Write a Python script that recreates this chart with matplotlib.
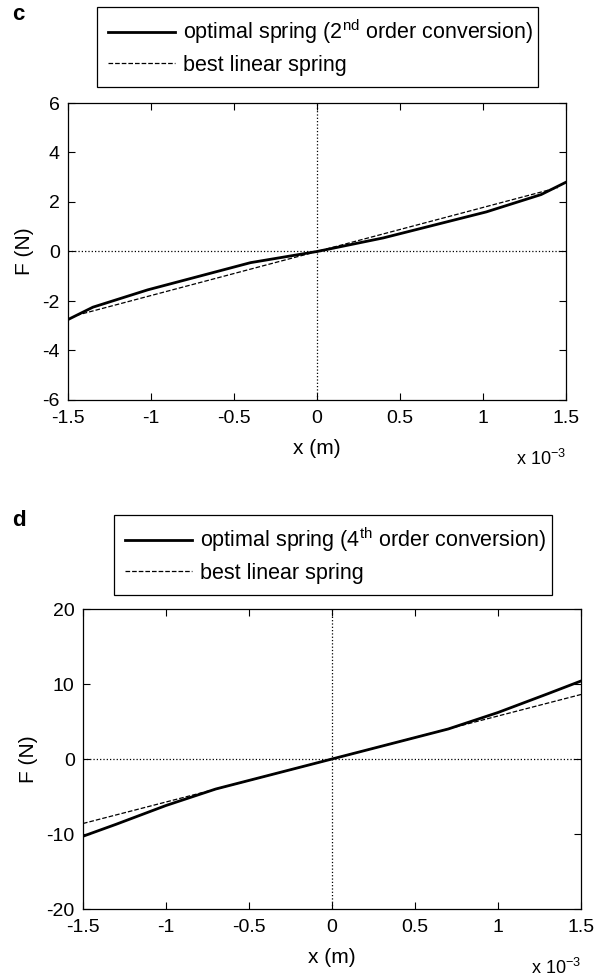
import matplotlib
matplotlib.use('Agg')
import matplotlib.pyplot as plt
import numpy as np

plt.rcParams['font.family'] = ['Liberation Sans', 'DejaVu Sans']
plt.rcParams['mathtext.fontset'] = 'custom'
plt.rcParams['mathtext.rm'] = 'Liberation Sans'

# panel c: 2nd order conversion
x_c = [-1.5, -1.35, -1.02, -0.4, 0.0, 0.4, 1.02, 1.35, 1.5]
f_c = [-2.75, -2.25, -1.55, -0.45, 0.0, 0.55, 1.6, 2.3, 2.8]
x_c_lin = [-1.45, 1.45]
f_c_lin = [-2.58, 2.58]

# panel d: 4th order conversion
x_d = [-1.5, -1.3, -1.0, -0.7, -0.35, 0.0, 0.35, 0.7, 1.0, 1.3, 1.5]
f_d = [-10.3, -8.7, -6.2, -4.0, -2.0, 0.0, 2.0, 4.0, 6.2, 8.7, 10.4]
x_d_lin = [-1.5, 1.5]
f_d_lin = [-8.6, 8.6]

x_ticks = [-1.5, -1, -0.5, 0, 0.5, 1, 1.5]
x_ticklabels = ['-1.5', '-1', '-0.5', '0', '0.5', '1', '1.5']

W, H = 600, 980
fig = plt.figure(figsize=(W / 100, H / 100), dpi=100)


def px_axes(left, right, top, bottom):
    return fig.add_axes([left / W, 1 - bottom / H, (right - left) / W, (bottom - top) / H])


def style(ax, ylim, yticks):
    ax.set_xlim(-1.5, 1.5)
    ax.set_ylim(*ylim)
    ax.set_xticks(x_ticks)
    ax.set_xticklabels(x_ticklabels)
    ax.set_yticks(yticks)
    ax.set_yticklabels([str(t) for t in yticks])
    ax.tick_params(direction='in', top=True, right=True, labelsize=14,
                   length=5, width=0.8)
    ax.tick_params(axis='x', pad=7)
    ax.tick_params(axis='y', pad=6)
    ax.axhline(0, color='k', linestyle=':', linewidth=0.9)
    ax.axvline(0, color='k', linestyle=':', linewidth=0.9)
    for s in ax.spines.values():
        s.set_linewidth(0.9)
    ax.set_xlabel('x (m)', fontsize=15, labelpad=9)
    ax.set_ylabel('F (N)', fontsize=15, labelpad=6)


def add_legend(ax, label, x0, y0, x1, y1):
    h1, = ax.plot([], [], 'k-', linewidth=2)
    h2, = ax.plot([], [], 'k--', linewidth=0.9)
    leg = fig.legend([h1, h2], [label, 'best linear spring'],
                     loc='upper left',
                     bbox_to_anchor=(x0 / W, 1 - y1 / H, (x1 - x0) / W, (y1 - y0) / H),
                     mode='expand', fontsize=15.5, frameon=True, fancybox=False,
                     edgecolor='k', framealpha=1, handlelength=3.1,
                     handletextpad=0.4, borderaxespad=0, labelspacing=0.4,
                     borderpad=0.5)
    leg.get_frame().set_linewidth(0.9)


# panel c
ax1 = px_axes(68, 566, 103, 400)
ax1.plot(x_c, f_c, 'k-', linewidth=2)
ax1.plot(x_c_lin, f_c_lin, 'k--', linewidth=0.9)
style(ax1, (-6, 6), [-6, -4, -2, 0, 2, 4, 6])
add_legend(ax1, r'optimal spring (2$^{\mathrm{nd}}$ order conversion)', 97, 7, 538, 83)
fig.text(12 / W, 1 - 14 / H, 'c', fontsize=16, fontweight='bold', va='center')
fig.text(541 / W, 1 - 459 / H, r'x 10$^{-3}$', fontsize=13, ha='center', va='center')

# panel d
ax2 = px_axes(83, 581, 609, 909)
ax2.plot(x_d, f_d, 'k-', linewidth=2)
ax2.plot(x_d_lin, f_d_lin, 'k--', linewidth=0.9)
style(ax2, (-20, 20), [-20, -10, 0, 10, 20])
add_legend(ax2, r'optimal spring (4$^{\mathrm{th}}$ order conversion)', 114, 515, 552, 591)
fig.text(12 / W, 1 - 520 / H, 'd', fontsize=16, fontweight='bold', va='center')
fig.text(556 / W, 1 - 968 / H, r'x 10$^{-3}$', fontsize=13, ha='center', va='center')

fig.savefig('out.png', dpi=100)
